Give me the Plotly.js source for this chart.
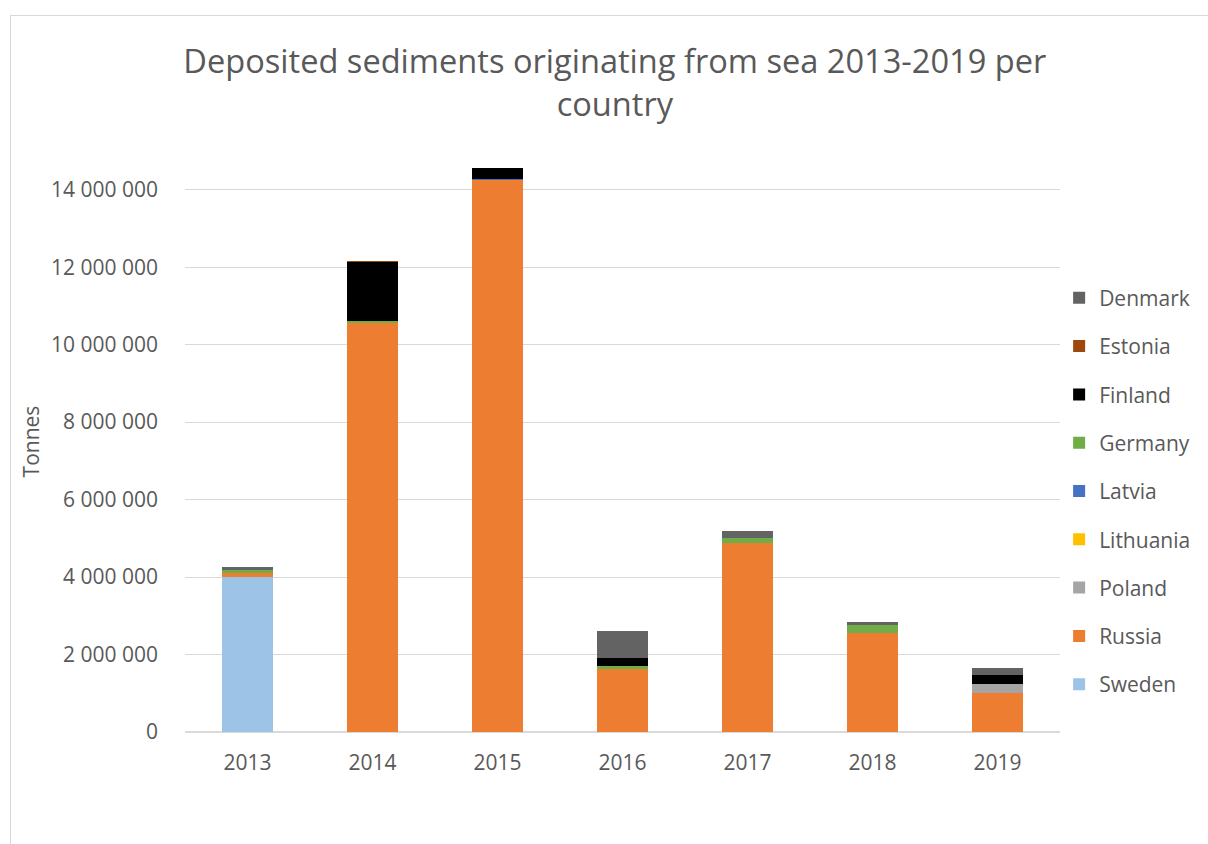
<!DOCTYPE html>
<html>
<head>
<meta charset="utf-8">
<script src="https://cdn.plot.ly/plotly-3.0.1.min.js"></script>
<style>
  html, body { margin: 0; padding: 0; background: #ffffff; }
  #chart { position: absolute; left: 0; top: 0; width: 1208px; height: 844px; }
  #frame { position: absolute; left: 10px; top: 15px; width: 1300px; height: 900px;
           border-left: 1px solid #d9d9d9; border-top: 1px solid #d9d9d9; pointer-events: none; }
</style>
</head>
<body>
<div id="chart"></div>
<div id="frame"></div>
<script>
// ---- data ----
const years = ['2013', '2014', '2015', '2016', '2017', '2018', '2019'];
const sweden    = [4000000, 0, 0, 0, 0, 0, 0];
const russia    = [100000, 10570000, 14270000, 1620000, 4890000, 2550000, 1015000];
const poland    = [0, 0, 0, 0, 0, 0, 225000];
const lithuania = [0, 0, 0, 0, 0, 0, 0];
const latvia    = [0, 0, 20000, 0, 0, 0, 0];
const germany   = [80000, 50000, 0, 85000, 110000, 210000, 0];
const finland   = [0, 1520000, 260000, 210000, 0, 0, 225000];
const estonia   = [0, 20000, 0, 0, 0, 0, 0];
const denmark   = [80000, 0, 0, 680000, 190000, 85000, 200000];

const seriesNames = ['Sweden', 'Russia', 'Poland', 'Lithuania', 'Latvia', 'Germany', 'Finland', 'Estonia', 'Denmark'];
const seriesValues = [sweden, russia, poland, lithuania, latvia, germany, finland, estonia, denmark];
const seriesColors = ['#9dc3e6', '#ed7d31', '#a5a5a5', '#ffc000', '#4472c4', '#70ad47', '#000000', '#9e480e', '#636363'];

const textColor = '#595959';
const fontFam = '"Open Sans", "Noto Sans", sans-serif';

const traces = seriesNames.map((n, i) => ({
  type: 'bar',
  name: n,
  x: years,
  y: seriesValues[i],
  legendgroup: n,
  legendrank: seriesNames.length - i,
  marker: { color: seriesColors[i], line: { width: 0 } },
  hoverinfo: 'x+y+name'
}));

const layout = {
  width: 1208,
  height: 844,
  barmode: 'stack',
  bargap: 0.595,
  separators: ', ',
  paper_bgcolor: 'rgba(0,0,0,0)',
  plot_bgcolor: 'rgba(0,0,0,0)',
  font: { family: fontFam, color: textColor, size: 21 },
  margin: { l: 185.4, r: 146.4, t: 151.3, b: 112, pad: 0 },
  title: {
    text: 'Deposited sediments originating from sea 2013-2019 per<br>country',
    font: { family: fontFam, size: 32.6, color: textColor },
    x: 0.509, xanchor: 'center',
    y: 0.913, yanchor: 'top'
  },
  xaxis: {
    type: 'category',
    showgrid: false,
    showline: false,
    ticks: '',
    ticklabelstandoff: 16,
    tickfont: { family: fontFam, size: 21, color: textColor }
  },
  yaxis: {
    range: [0, 15000000],
    dtick: 2000000,
    tickformat: ',d',
    showgrid: true,
    gridcolor: '#d9d9d9',
    gridwidth: 1,
    zeroline: true,
    zerolinecolor: '#d9d9d9',
    zerolinewidth: 2,
    showline: false,
    ticks: '',
    ticklabelstandoff: 26,
    tickfont: { family: fontFam, size: 21, color: textColor },
    title: { text: 'Tonnes', font: { family: fontFam, size: 21, color: textColor }, standoff: 5 }
  },
  legend: {
    x: 0.999, xanchor: 'left',
    y: 0.782, yanchor: 'top',
    traceorder: 'grouped',
    tracegroupgap: 18,
    font: { family: fontFam, size: 21, color: textColor },
    bgcolor: 'rgba(0,0,0,0)',
    itemwidth: 30
  },
  showlegend: true
};

Plotly.newPlot('chart', traces, layout, { displayModeBar: false, staticPlot: false });
</script>
</body>
</html>
